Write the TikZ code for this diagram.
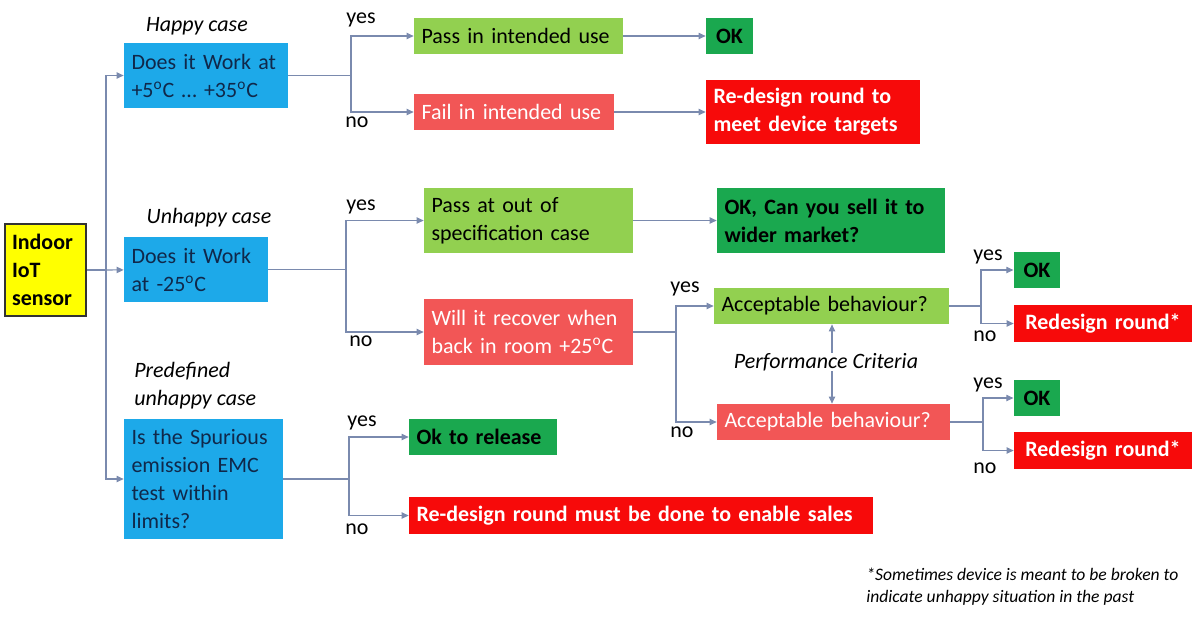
\documentclass[tikz,border=0pt]{standalone}
\usepackage{fontspec}
\setmainfont{Carlito}
\usetikzlibrary{arrows.meta, positioning, calc}
\definecolor{qBlue}{HTML}{1DA9E9}
\definecolor{qText}{HTML}{10284A}
\definecolor{passGreen}{HTML}{92D050}
\definecolor{okGreen}{HTML}{1AA84F}
\definecolor{failRed}{HTML}{F25656}
\definecolor{hardRed}{HTML}{F70A0A}
\definecolor{sensYellow}{HTML}{FFFF00}
\definecolor{lineGray}{HTML}{7A8AAE}
\hyphenpenalty=10000

\begin{document}
\begin{tikzpicture}[x=0.02cm, y=-0.02cm,
    every node/.style={font=\fontsize{12.5}{15.9}\selectfont, inner xsep=0.15cm, inner ysep=0pt},
    box/.style={minimum height=0.72cm, align=left},
    qbox/.style={box, fill=qBlue, text=qText},
    passbox/.style={box, fill=passGreen, text=black},
    failbox/.style={box, fill=failRed, text=white},
    okbox/.style={box, fill=okGreen, text=black, font=\fontsize{12.5}{15.9}\selectfont\bfseries, align=center},
    redbox/.style={box, fill=hardRed, text=white, font=\fontsize{12.5}{15.9}\selectfont\bfseries},
    case/.style={font=\fontsize{12.5}{15.9}\selectfont\itshape, inner sep=0pt},
    lbl/.style={inner sep=0pt},
    conn/.style={draw=lineGray, line width=0.6pt},
    arr/.style={conn, -{Triangle[length=4pt, width=3.6pt]}}]
  \useasboundingbox (0,0) rectangle (1200,620);

  % start
  \node[draw=black!80, line width=1pt, fill=sensYellow, minimum width=1.62cm, minimum height=1.84cm,
        inner xsep=0.14cm, text width=1.34cm, align=left, font=\fontsize{12.5}{15.9}\selectfont\bfseries] (sensor)
        at (45.5,270) {Indoor\\IoT\\sensor};

  % the three questions
  \node[qbox, text width=2.98cm, minimum height=1.3cm] (q1) at (206,75.5)
        {Does it Work at\\+5\textsuperscript{o}C \ldots\ +35\textsuperscript{o}C};
  \node[qbox, text width=2.58cm, minimum height=1.3cm] (q2) at (196,269.5)
        {Does it Work\\at -25\textsuperscript{o}C};
  \node[qbox, text width=2.88cm, minimum height=2.4cm] (q3) at (203.5,479)
        {Is the Spurious\\emission EMC\\test within\\limits?};
  \node[case] (c1) at (197,26) {Happy case};
  \node[case] (c2) at (209,218) {Unhappy case};
  \node[case, anchor=west, align=left] (c3) at (134,386) {Predefined\\unhappy case};

  \coordinate (t) at (106,270);
  \draw[conn] (sensor) -- (t);
  \draw[arr] (t) |- (q1.west);
  \draw[arr] (t) -- (q2);
  \draw[arr] (t) |- (q3.west);

  % happy case
  \node[passbox, text width=3.88cm] (pass1) at (518.5,36) {Pass in intended use};
  \node[failbox, text width=3.7cm] (fail1) at (514,112) {Fail in intended use};
  \node[okbox, text width=0.64cm] (ok1) at (729.5,36) {OK};
  \node[redbox, text width=3.98cm, minimum height=1.28cm] (rd1) at (813,112)
        {Re-design round to\\meet device targets};
  \coordinate (j1) at (351,75.5);
  \draw[conn] (q1) -- (j1);
  \draw[arr] (j1) |- (pass1.west);
  \draw[arr] (j1) |- (fail1.west);
  \draw[arr] (pass1) -- (ok1);
  \draw[arr] (fail1) -- (rd1);
  \node[lbl] (y1) at (361,20) {yes};
  \node[lbl] (n1) at (357,122) {no};

  % unhappy case
  \node[passbox, text width=3.88cm, minimum height=1.3cm] (pass2) at (528.5,220.5)
        {Pass at out of\\specification case};
  \node[okbox, text width=4.26cm, minimum height=1.3cm, align=left] (ok2) at (831,220.5)
        {OK, Can you sell it to\\wider market?};
  \node[failbox, text width=3.88cm, minimum height=1.32cm] (rec) at (528.5,332)
        {Will it recover when\\back in room +25\textsuperscript{o}C};
  \coordinate (j2) at (346,269.5);
  \draw[conn] (q2) -- (j2);
  \draw[arr] (j2) |- (pass2.west);
  \draw[arr] (j2) |- (rec.west);
  \draw[arr] (pass2) -- (ok2);
  \node[lbl] (y2) at (361,207) {yes};
  \node[lbl] (n2) at (361,341) {no};

  \node[passbox, text width=4.4cm] (accg) at (831.5,306) {Acceptable behaviour?};
  \node[failbox, text width=4.36cm] (accr) at (833.5,422) {Acceptable behaviour?};
  \node[case] (pc) at (826,362) {Performance Criteria};
  \draw[arr] ([xshift=0.12cm]pc.north) -- ([xshift=0.12cm]pc.north |- accg.south);
  \draw[arr] ([xshift=0.12cm]pc.south) -- ([xshift=0.12cm]pc.south |- accr.north);
  \coordinate (j4) at (676,332);
  \draw[conn] (rec) -- (j4);
  \draw[arr] (j4) |- (accg.west);
  \draw[arr] (j4) |- (accr.west);
  \node[lbl] (y3) at (685,289) {yes};
  \node[lbl] (n3) at (682,432) {no};

  % performance outcomes
  \node[okbox, text width=0.63cm] (ok3) at (1037,270) {OK};
  \node[redbox, text width=3.26cm, minimum height=0.74cm, align=center] (rd3) at (1103,323.5) {Redesign round*};
  \node[okbox, text width=0.63cm] (ok4) at (1037,398) {OK};
  \node[redbox, text width=3.26cm, minimum height=0.74cm, align=center] (rd4) at (1103,450.5) {Redesign round*};
  \coordinate (j5) at (981,306);
  \coordinate (j6) at (983,422);
  \draw[conn] (accg) -- (j5);
  \draw[arr] (j5) |- (ok3.west);
  \draw[arr] (j5) |- (rd3.west);
  \draw[conn] (accr) -- (j6);
  \draw[arr] (j6) |- (ok4.west);
  \draw[arr] (j6) |- (rd4.west);
  \node[lbl] (y4) at (988,257) {yes};
  \node[lbl] (n4) at (985,336) {no};
  \node[lbl] (y5) at (988,385) {yes};
  \node[lbl] (n5) at (985,468) {no};

  % predefined unhappy case
  \node[okbox, text width=2.66cm, align=left] (rel) at (483,437) {Ok to release};
  \node[redbox, text width=8.98cm, minimum height=0.74cm] (rdall) at (641,515.5)
        {Re-design round must be done to enable sales};
  \coordinate (j3) at (349,479);
  \draw[conn] (q3) -- (j3);
  \draw[arr] (j3) |- (rel.west);
  \draw[arr] (j3) |- (rdall.west);
  \node[lbl] (y6) at (362,423) {yes};
  \node[lbl] (n6) at (357,529) {no};

  \node[case, anchor=north west, align=left, font=\fontsize{10}{12.5}\selectfont\itshape] (note) at (866,568)
        {*Sometimes device is meant to be broken to\\indicate unhappy situation in the past};
\end{tikzpicture}
\end{document}
